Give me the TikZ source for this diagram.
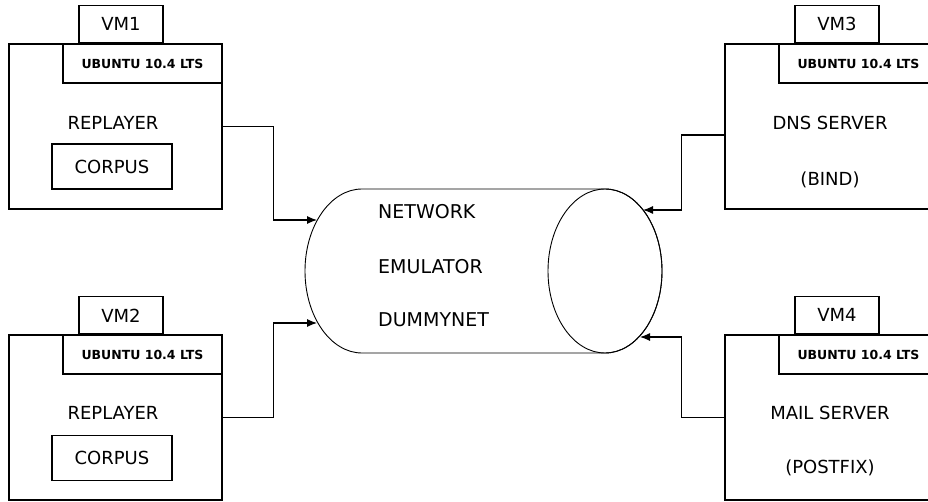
\documentclass[tikz,border=0pt]{standalone}
\usepackage{fontspec}
\setmainfont{DejaVu Sans}
\usetikzlibrary{arrows.meta, positioning}

\begin{document}
\begin{tikzpicture}[x=1pt, y=1pt,
  vmbox/.style={draw, line width=1.1pt, minimum width=213pt, minimum height=165pt, inner sep=0pt},
  tabbox/.style={draw, line width=1.1pt, minimum width=84pt, minimum height=37pt, inner sep=0pt, font=\fontsize{18}{20}\selectfont},
  osbox/.style={draw, line width=1.1pt, minimum width=159pt, minimum height=39pt, inner sep=0pt, font=\fontsize{12.5}{14}\selectfont\bfseries},
  corpusbox/.style={draw, line width=1.1pt, minimum width=120pt, minimum height=45pt, inner sep=0pt, font=\fontsize{18}{20}\selectfont},
  lbl/.style={inner sep=0pt, font=\fontsize{18}{20}\selectfont},
  netlbl/.style={inner sep=0pt, anchor=west, font=\fontsize{19}{21}\selectfont},
  link/.style={line width=1.1pt, -{Latex[length=10pt, width=8pt]}}]
\useasboundingbox (0,0) rectangle (928,501);
% VM1 (replayer, top left)
\node[vmbox] (vm1) at (115.5,374.5) {};
\node[tabbox, above right=0pt and 70pt of vm1.north west] (vm1tab) {VM1};
\node[osbox, below right=0pt and 54pt of vm1.north west] (vm1os) {UBUNTU 10.4 LTS};
\node[lbl] (rep1) at (113,378) {REPLAYER};
\node[corpusbox] (corp1) at (112,334.5) {CORPUS};
% VM2 (replayer, bottom left)
\node[vmbox] (vm2) at (115.5,83.5) {};
\node[tabbox, above right=0pt and 70pt of vm2.north west] (vm2tab) {VM2};
\node[osbox, below right=0pt and 54pt of vm2.north west] (vm2os) {UBUNTU 10.4 LTS};
\node[lbl] (rep2) at (113,88) {REPLAYER};
\node[corpusbox] (corp2) at (112,43) {CORPUS};
% VM3 (dns server, top right)
\node[vmbox] (vm3) at (831.5,374.5) {};
\node[tabbox, above right=0pt and 70pt of vm3.north west] (vm3tab) {VM3};
\node[osbox, below right=0pt and 54pt of vm3.north west] (vm3os) {UBUNTU 10.4 LTS};
\node[lbl] (dns) at (830,378) {DNS SERVER};
\node[lbl] (bind) at (830,321) {(BIND)};
% VM4 (mail server, bottom right)
\node[vmbox] (vm4) at (831.5,83.5) {};
\node[tabbox, above right=0pt and 70pt of vm4.north west] (vm4tab) {VM4};
\node[osbox, below right=0pt and 54pt of vm4.north west] (vm4os) {UBUNTU 10.4 LTS};
\node[lbl] (mail) at (830,88) {MAIL SERVER};
\node[lbl] (postfix) at (830,33) {(POSTFIX)};
% Network emulator cylinder
\draw[line width=0.9pt] (362,312) -- (605,312)
  arc[start angle=90, end angle=-90, x radius=57, y radius=82] -- (362,148)
  arc[start angle=270, end angle=90, x radius=57, y radius=82] -- cycle;
\draw[line width=0.9pt] (605,230) ellipse[x radius=57, y radius=82];
\node[netlbl] (net) at (378,289) {NETWORK};
\node[netlbl] (emu) at (378,234) {EMULATOR};
\node[netlbl] (dummy) at (378,181) {DUMMYNET};
% Arrow end points on the cylinder
\coordinate (in1) at (317,281);
\coordinate (in2) at (317,178);
\coordinate (in3) at (643,291);
\coordinate (in4) at (640,164);
% Links
\draw[link] (vm1.east) -- ++(51,0) |- (in1);
\draw[link] (vm2.east) -- ++(51,0) |- (in2);
\draw[link] ([yshift=-8.5pt]vm3.west) -- ++(-43,0) |- (in3);
\draw[link] (vm4.west) -- ++(-43,0) |- (in4);
\end{tikzpicture}
\end{document}
